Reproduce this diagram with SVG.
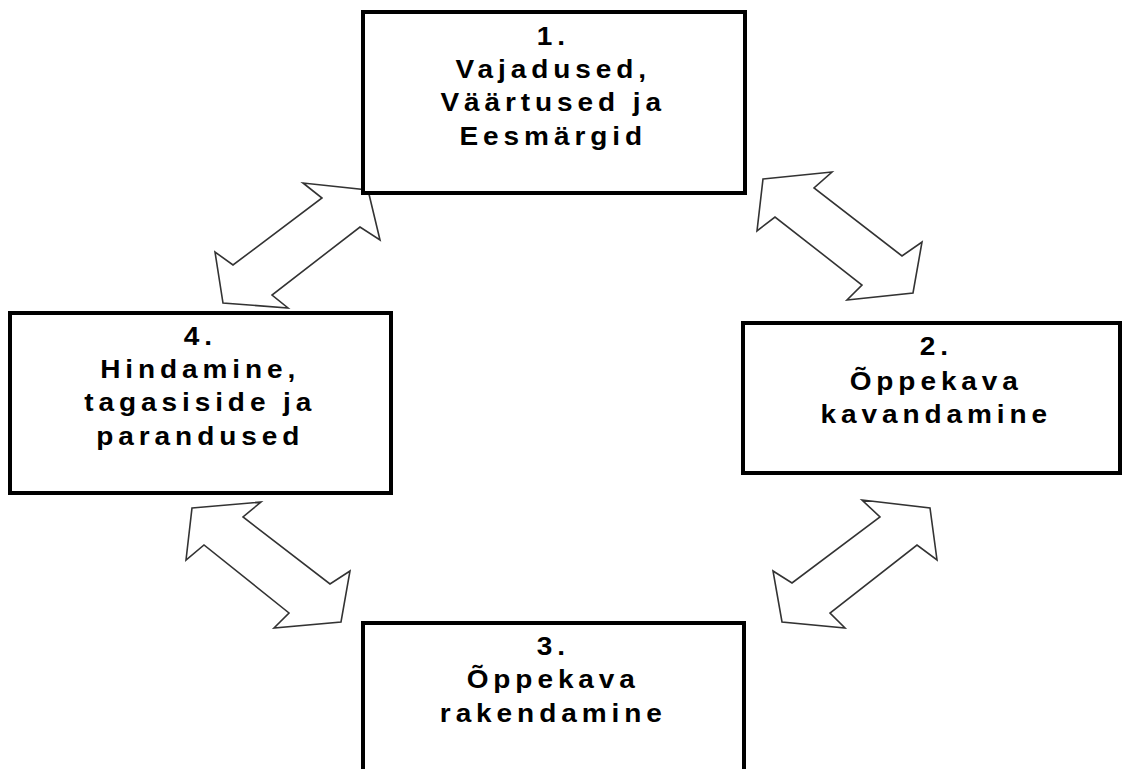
<svg xmlns="http://www.w3.org/2000/svg" width="1125" height="769" viewBox="0 0 1125 769">
  <style>
    .box { fill: #ffffff; stroke: #000000; stroke-width: 4; }
    .arrow { fill: #ffffff; stroke: #333333; stroke-width: 1.6; stroke-linejoin: miter; }
    .label { font-family: "Liberation Sans", Arial, sans-serif; font-size: 25px; font-weight: bold; fill: #000000; text-anchor: middle; letter-spacing: 4.4px; }
  </style>
  <rect width="1125" height="769" fill="#ffffff"/>

  <!-- double-headed block arrows between the stages -->
  <g id="connectors">
    <polygon id="arrow-1-4" class="arrow" points="368,190 380,240 360,227 272,295 288,308 223,303 215,252 233,265 322,198 303,183"/>
    <polygon id="arrow-1-2" class="arrow" points="763,179 832,172 814,188 902,256 922,242 913,293 847,300 862,285 775,217 757,231"/>
    <polygon id="arrow-4-3" class="arrow" points="192,508 261,502 243,517 330,584 350,571 341,622 274,628 289,613 204,545 186,560"/>
    <polygon id="arrow-2-3" class="arrow" points="862,500 930,508 937,560 917,545 830,613 845,628 782,622 773,571 792,583 880,517"/>
  </g>

  <!-- labels are slightly widened horizontally -->
  <g id="node-1">
    <rect class="box" x="363" y="12" width="382" height="181"/>
    <g transform="translate(551,0) scale(1.12,1)">
      <text class="label" x="2" y="45">1.</text>
      <text class="label" x="2" y="78">Vajadused,</text>
      <text class="label" x="2" y="111">Väärtused ja</text>
      <text class="label" x="2" y="145">Eesmärgid</text>
    </g>
  </g>

  <g id="node-2">
    <rect class="box" x="743" y="323" width="377" height="150"/>
    <g transform="translate(934,0) scale(1.12,1)">
      <text class="label" x="2" y="355">2.</text>
      <text class="label" x="2" y="390">Õppekava</text>
      <text class="label" x="2" y="423">kavandamine</text>
    </g>
  </g>

  <g id="node-3">
    <rect class="box" x="363" y="623" width="381" height="160"/>
    <g transform="translate(551,0) scale(1.12,1)">
      <text class="label" x="2" y="655">3.</text>
      <text class="label" x="2" y="688">Õppekava</text>
      <text class="label" x="2" y="722">rakendamine</text>
    </g>
  </g>

  <g id="node-4">
    <rect class="box" x="10" y="313" width="381" height="180"/>
    <g transform="translate(198,0) scale(1.12,1)">
      <text class="label" x="2" y="345">4.</text>
      <text class="label" x="2" y="378">Hindamine,</text>
      <text class="label" x="2" y="411">tagasiside ja</text>
      <text class="label" x="2" y="445">parandused</text>
    </g>
  </g>
</svg>
